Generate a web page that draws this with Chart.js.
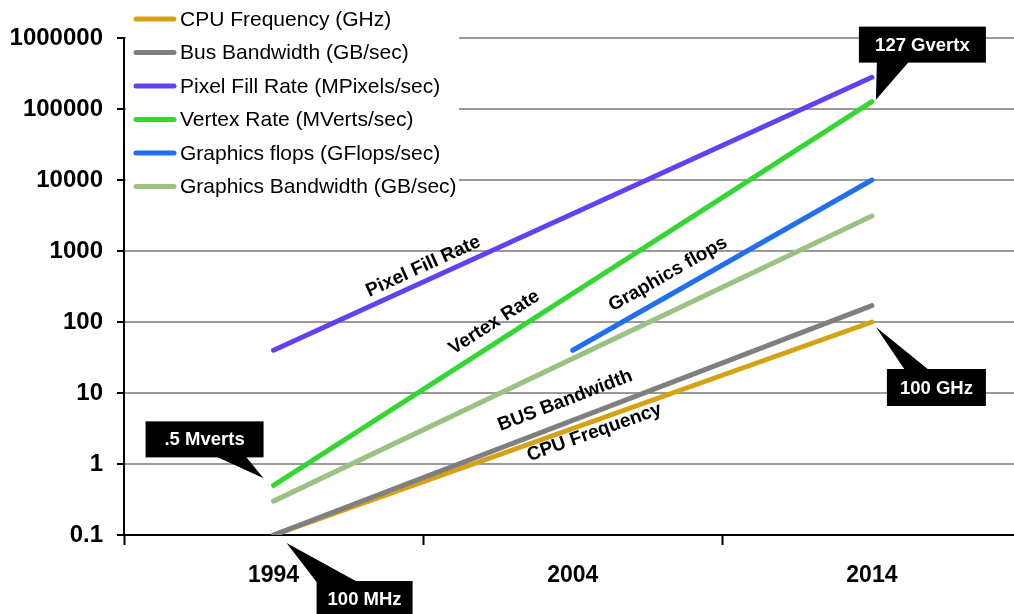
<!DOCTYPE html>
<html>
<head>
<meta charset="utf-8">
<title>Graphics vs CPU growth</title>
<script src="https://cdn.jsdelivr.net/npm/chart.js@4.4.1/dist/chart.umd.min.js"></script>
<style>
  html, body { margin: 0; padding: 0; background: #fff; }
  .for_chart { position: relative; width: 1014px; height: 614px; }
</style>
</head>
<body>
<div class="for_chart"><canvas id="chart"></canvas></div>
<script>
// data (log scale values)
const fullYears = [1994, 2014];
const flopsYears = [2004, 2014];
const cpuFreq = [0.1, 100];
const busBandwidth = [0.1, 170];
const pixelFill = [40, 280000];
const vertexRate = [0.5, 127000];
const gfxFlops = [40, 10000];
const gfxBandwidth = [0.3, 3100];

const seriesNames = [
  "CPU Frequency (GHz)",
  "Bus Bandwidth (GB/sec)",
  "Pixel Fill Rate (MPixels/sec)",
  "Vertex Rate (MVerts/sec)",
  "Graphics flops (GFlops/sec)",
  "Graphics Bandwidth (GB/sec)",
];
const seriesColors = ["#d4a212", "#7f7f7f", "#6141f2", "#33d633", "#1f6ff0", "#9bc283"];

const yearLabels = [1994, 2004, 2014];
const yearTicks = [1989, 1994, 1999, 2004, 2009, 2014];
const valueTicks = [0.1, 1, 10, 100, 1000, 10000, 100000, 1000000];

// rotated text along the lines: dataset index, year where it sits, distance off the line
const lineLabels = [
  { text: "Pixel Fill Rate", ds: 2, year: 1999.2, off: 14 },
  { text: "Vertex Rate", ds: 3, year: 2001.7, off: 18 },
  { text: "Graphics flops", ds: 4, year: 2007.5, off: 19 },
  { text: "BUS Bandwidth", ds: 1, year: 2004, off: 21 },
  { text: "CPU Frequency", ds: 0, year: 2004.6, off: -11 },
];

// black callouts pinned to a data point
const callouts = [
  { text: ".5 Mverts", ds: 3, idx: 0, tip: [-10, -7], box: [-128, -64, 118, 36], base: [70, 100], edge: "bottom" },
  { text: "100 MHz", ds: 0, idx: 0, tip: [13, 8], box: [43, 46, 96, 36], base: [0, 41], edge: "top" },
  { text: "127 Gvertx", ds: 3, idx: 1, tip: [4, -2], box: [-13, -75, 127, 36], base: [18, 50], edge: "bottom" },
  { text: "100 GHz", ds: 0, idx: 1, tip: [4, 5], box: [15, 47, 99, 37], base: [18, 42], edge: "top" },
];

const FONT = "'Liberation Sans', Arial, Helvetica, sans-serif";

function toPoints(years, vals) {
  return years.map((y, i) => ({ x: y, y: vals[i] }));
}

const seriesData = [
  toPoints(fullYears, cpuFreq),
  toPoints(fullYears, busBandwidth),
  toPoints(fullYears, pixelFill),
  toPoints(fullYears, vertexRate),
  toPoints(flopsYears, gfxFlops),
  toPoints(fullYears, gfxBandwidth),
];

const decorPlugin = {
  id: "decor",
  afterDraw(chart) {
    const ctx = chart.ctx;
    const area = chart.chartArea;
    const xs = chart.scales.x;

    // legend box over the grid
    ctx.save();
    ctx.fillStyle = "#fff";
    ctx.fillRect(area.left + 2, 0, 457 - area.left, 200);
    ctx.font = "21px " + FONT;
    ctx.textBaseline = "middle";
    ctx.textAlign = "left";
    seriesNames.forEach((name, i) => {
      const y = 19 + i * 33.5;
      ctx.strokeStyle = seriesColors[i];
      ctx.lineWidth = 5;
      ctx.lineCap = "round";
      ctx.beginPath();
      ctx.moveTo(136, y);
      ctx.lineTo(174, y);
      ctx.stroke();
      ctx.fillStyle = "#000";
      ctx.fillText(name, 180, y + 1);
    });
    ctx.restore();

    // labels along the lines
    lineLabels.forEach((l) => {
      const pts = chart.getDatasetMeta(l.ds).data;
      const a = pts[0], b = pts[pts.length - 1];
      const ang = Math.atan2(b.y - a.y, b.x - a.x);
      const px = xs.getPixelForValue(l.year);
      const py = a.y + (b.y - a.y) * (px - a.x) / (b.x - a.x);
      const cx = px + Math.sin(ang) * l.off;
      const cy = py - Math.cos(ang) * l.off;
      ctx.save();
      ctx.translate(cx, cy);
      ctx.rotate(ang);
      ctx.font = "bold 19px " + FONT;
      ctx.fillStyle = "#000";
      ctx.textAlign = "center";
      ctx.textBaseline = "middle";
      ctx.fillText(l.text, 0, 0);
      ctx.restore();
    });

    // callouts
    callouts.forEach((c) => {
      const p = chart.getDatasetMeta(c.ds).data[c.idx];
      const bx = p.x + c.box[0], by = p.y + c.box[1];
      const bw = c.box[2], bh = c.box[3];
      const ey = c.edge === "top" ? by + 1 : by + bh - 1;
      ctx.save();
      ctx.fillStyle = "#000";
      ctx.beginPath();
      ctx.moveTo(bx + c.base[0], ey);
      ctx.lineTo(p.x + c.tip[0], p.y + c.tip[1]);
      ctx.lineTo(bx + c.base[1], ey);
      ctx.closePath();
      ctx.fill();
      ctx.fillRect(bx, by, bw, bh);
      ctx.fillStyle = "#fff";
      ctx.font = "bold 18.5px " + FONT;
      ctx.textAlign = "center";
      ctx.textBaseline = "middle";
      ctx.fillText(c.text, bx + bw / 2, by + bh / 2 + 1);
      ctx.restore();
    });
  },
};

new Chart(document.getElementById("chart").getContext("2d"), {
  type: "line",
  data: {
    datasets: seriesData.map((d, i) => ({
      label: seriesNames[i],
      data: d,
      borderColor: seriesColors[i],
      backgroundColor: seriesColors[i],
      borderWidth: 5,
      borderCapStyle: "round",
      pointRadius: 0,
      fill: false,
      order: i === 1 ? 0 : 1,
    })),
  },
  options: {
    responsive: true,
    maintainAspectRatio: false,
    animation: false,
    layout: { padding: { top: 38, right: 0, bottom: 0, left: 0 } },
    plugins: {
      legend: { display: false },
      tooltip: { enabled: false },
    },
    scales: {
      x: {
        type: "linear",
        min: 1989,
        max: 2018.75,
        afterBuildTicks: (s) => { s.ticks = yearTicks.map((v) => ({ value: v })); },
        afterFit: (s) => { s.height = 79; },
        border: { color: "#000", width: 2 },
        grid: {
          drawOnChartArea: false,
          tickLength: 10,
          tickWidth: 2,
          tickColor: (c) => (yearLabels.includes(c.tick.value) ? "rgba(0,0,0,0)" : "#000"),
        },
        ticks: {
          autoSkip: false,
          maxRotation: 0,
          padding: 17,
          color: "#000",
          font: { family: FONT, size: 23, weight: "bold" },
          callback: (v) => (yearLabels.includes(v) ? String(v) : ""),
        },
      },
      y: {
        type: "logarithmic",
        min: 0.1,
        max: 1000000,
        afterBuildTicks: (s) => { s.ticks = valueTicks.map((v) => ({ value: v })); },
        afterFit: (s) => { s.width = 124; },
        border: { color: "#000", width: 2 },
        grid: {
          color: (c) => (c.tick && c.tick.value === 0.1 ? "rgba(0,0,0,0)" : "#9a9a9a"),
          lineWidth: 2,
          tickLength: 7,
          tickWidth: 2,
          tickColor: "#000",
        },
        ticks: {
          padding: 14,
          color: "#000",
          font: { family: FONT, size: 24, weight: "bold" },
          callback: (v) => (v === 0.1 ? "0.1" : String(v)),
        },
      },
    },
  },
  plugins: [decorPlugin],
});
</script>
</body>
</html>
